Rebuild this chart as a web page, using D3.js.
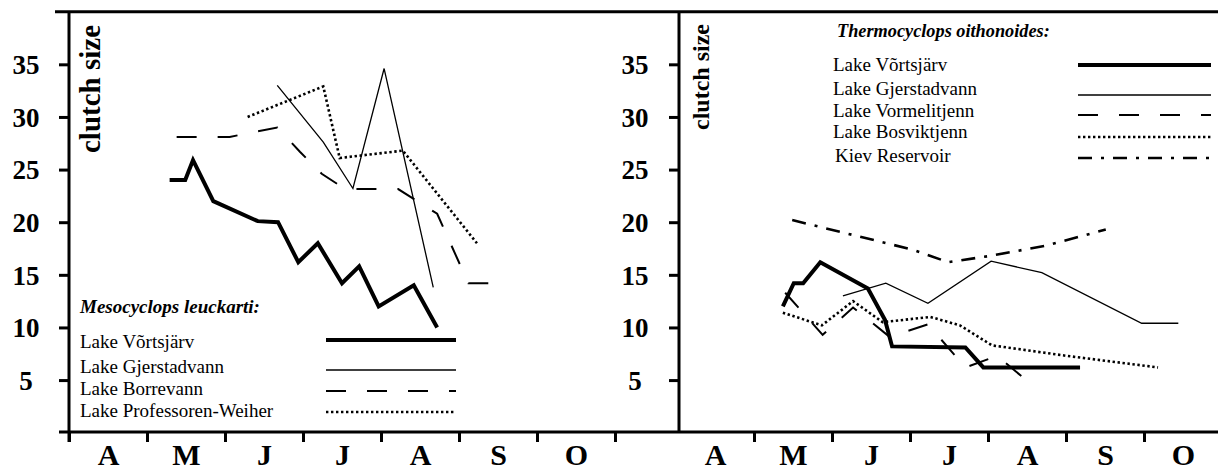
<!DOCTYPE html>
<html><head><meta charset="utf-8">
<script src="https://cdn.jsdelivr.net/npm/d3@7"></script>
<style>body{margin:0;background:#fff}svg{display:block}</style>
</head><body>
<svg id="chart" width="1218" height="472"></svg>
<script>
// ---------- data ----------
const monthLabels = ["A","M","J","J","A","S","O"];
const monthStarts = [4,5,6,7,8,9,10,11];           // April = 4 ... end of October = 11
const yTicks = [5,10,15,20,25,30,35];

// Left panel: Mesocyclops leuckarti (x = month as decimal, y = clutch size)
const mlVortsjarvMonth = [5.29,5.49,5.59,5.85,6.42,6.68,6.94,7.19,7.50,7.72,7.97,8.42,8.72];
const mlVortsjarvValue = [24.0,24.0,25.9,22.0,20.1,20.0,16.2,18.0,14.2,15.8,12.0,14.0,10.0];
const mlGjerstadMonth  = [6.67,7.26,7.64,8.04,8.67];
const mlGjerstadValue  = [33.0,27.6,23.2,34.6,13.8];
const mlBorreMonth     = [5.38,6.06,6.67,6.96,7.24,7.54,8.22,8.72,9.12,9.56];
const mlBorreValue     = [28.1,28.1,29.0,26.7,24.6,23.15,23.15,20.8,14.2,14.2];
const mlProfMonth      = [6.29,7.26,7.47,8.28,9.23];
const mlProfValue      = [30.0,32.9,26.1,26.8,18.0];

// Right panel: Thermocyclops oithonoides
const toVortsjarvMonth = [5.37,5.51,5.63,5.85,6.46,6.68,6.77,7.71,7.94,9.18];
const toVortsjarvValue = [12.0,14.2,14.2,16.2,13.7,10.7,8.2,8.1,6.2,6.2];
const toGjerstadMonth  = [6.14,6.69,7.23,8.04,8.69,9.97,10.44];
const toGjerstadValue  = [13.0,14.2,12.3,16.3,15.2,10.4,10.4];
const toVormeMonth     = [5.40,5.88,6.27,6.74,7.23,7.71,8.12,8.60];
const toVormeValue     = [13.3,9.3,11.9,9.1,10.3,6.2,7.3,4.3];
const toBosvikMonth    = [5.37,5.87,6.27,6.65,7.26,7.64,8.05,9.01,10.18];
const toBosvikValue    = [11.4,10.2,12.5,10.5,11.0,10.2,8.3,7.3,6.2];
const toKievMonth      = [5.49,7.03,7.49,8.03,8.76,9.51];
const toKievValue      = [20.2,17.4,16.2,16.8,17.8,19.3];

const leftTitle = "Mesocyclops leuckarti:";
const leftNames = ["Lake Võrtsjärv","Lake Gjerstadvann","Lake Borrevann","Lake Professoren-Weiher"];
const rightTitle = "Thermocyclops oithonoides:";
const rightNames = ["Lake Võrtsjärv","Lake Gjerstadvann","Lake Vormelitjenn","Lake Bosviktjenn","Kiev Reservoir"];
const yLabel = "clutch size";

// ---------- styles ----------
const styles = {
  thick:   {w:4,   dash:null},
  thin:    {w:1.3, dash:null},
  dashed:  {w:2,   dash:"20,21"},
  dotted:  {w:2.6, dash:"2.4,2.6"},
  dashdot: {w:2.6, dash:"14,9,3,9"}
};
const FONT = "'Liberation Serif','Times New Roman',serif";

const svg = d3.select("#chart");
const y  = d3.scaleLinear().domain([0,40]).range([432.7,11.7]);
const xL = d3.scaleLinear().domain([4,11]).range([69,615]);
const xR = d3.scaleLinear().domain([4,11]).range([676,1222]);
const axisY = 432;

// frame lines
svg.append("line").attr("x1",55).attr("x2",1218).attr("y1",11.7).attr("y2",11.7)
  .attr("stroke","#000").attr("stroke-width",3);
svg.append("line").attr("x1",59).attr("x2",1218).attr("y1",axisY).attr("y2",axisY)
  .attr("stroke","#000").attr("stroke-width",3);
svg.append("line").attr("x1",69).attr("x2",69).attr("y1",11.7).attr("y2",442)
  .attr("stroke","#000").attr("stroke-width",3);
svg.append("line").attr("x1",679).attr("x2",679).attr("y1",11.7).attr("y2",axisY)
  .attr("stroke","#000").attr("stroke-width",3);

// y axes
function yAxis(xPos, labelX, fs) {
  const g = svg.append("g").attr("transform",`translate(${xPos},0)`)
    .call(d3.axisLeft(y).tickValues(yTicks).tickSize(10).tickFormat(d3.format("d")));
  g.select(".domain").remove();
  g.selectAll(".tick line").attr("stroke","#000").attr("stroke-width",3);
  g.selectAll(".tick text").attr("x",labelX - xPos).attr("dy","0.34em")
    .attr("text-anchor","middle").attr("font-family",FONT).attr("font-weight","bold")
    .attr("font-size",fs).attr("fill","#000");
}
yAxis(69, 26, 27);
yAxis(679, 635, 27);

// x axes
function xAxis(x, tickVals) {
  const g = svg.append("g").attr("transform",`translate(0,${axisY})`)
    .call(d3.axisBottom(x).tickValues(tickVals).tickSize(10).tickFormat(""));
  g.select(".domain").remove();
  g.selectAll(".tick line").attr("stroke","#000").attr("stroke-width",3);
  const mids = monthLabels.map((m,i)=>monthStarts[i]+0.5);
  const g2 = svg.append("g").attr("transform",`translate(0,${axisY})`)
    .call(d3.axisBottom(x).tickValues(mids).tickSize(0).tickFormat((d,i)=>monthLabels[i]));
  g2.select(".domain").remove();
  g2.selectAll(".tick text").attr("y",33).attr("dy",0)
    .attr("font-family",FONT).attr("font-weight","bold").attr("font-size",30).attr("fill","#000");
}
xAxis(xL, monthStarts);
xAxis(xR, monthStarts.slice(1,7));

// y labels
svg.append("text").attr("transform","translate(100,89) rotate(-90)").attr("text-anchor","middle")
  .attr("font-family",FONT).attr("font-weight","bold").attr("font-size",29).text(yLabel);
svg.append("text").attr("transform","translate(709,77) rotate(-90)").attr("text-anchor","middle")
  .attr("font-family",FONT).attr("font-weight","bold").attr("font-size",24).text(yLabel);

// series
function drawSeries(x, months, values, st) {
  const data = months.map((m,i)=>[m, values[i]]);
  const line = d3.line().x(d=>x(d[0])).y(d=>y(d[1]));
  const s = styles[st];
  svg.append("path").datum(data).attr("d",line).attr("fill","none").attr("stroke","#000")
    .attr("stroke-width",s.w).attr("stroke-dasharray",s.dash).attr("stroke-linejoin","miter");
}
drawSeries(xL, mlProfMonth, mlProfValue, "dotted");
drawSeries(xL, mlBorreMonth, mlBorreValue, "dashed");
drawSeries(xL, mlGjerstadMonth, mlGjerstadValue, "thin");
drawSeries(xL, mlVortsjarvMonth, mlVortsjarvValue, "thick");

drawSeries(xR, toKievMonth, toKievValue, "dashdot");
drawSeries(xR, toBosvikMonth, toBosvikValue, "dotted");
drawSeries(xR, toVormeMonth, toVormeValue, "dashed");
drawSeries(xR, toGjerstadMonth, toGjerstadValue, "thin");
drawSeries(xR, toVortsjarvMonth, toVortsjarvValue, "thick");

// legends
function legend(title, titlePos, titleSize, names, textX, textYs, lineX1, lineX2, lineYs, kinds) {
  svg.append("text").attr("x",titlePos[0]).attr("y",titlePos[1]).attr("font-family",FONT)
    .attr("font-weight","bold").attr("font-style","italic").attr("font-size",titleSize).text(title);
  names.forEach((n,i)=>{
    svg.append("text").attr("x",textX[i]).attr("y",textYs[i]).attr("font-family",FONT)
      .attr("font-size",19).text(n);
    const s = styles[kinds[i]];
    svg.append("line").attr("x1",lineX1).attr("x2",lineX2).attr("y1",lineYs[i]).attr("y2",lineYs[i])
      .attr("stroke","#000").attr("stroke-width",s.w).attr("stroke-dasharray",s.dash);
  });
}
legend(leftTitle,[80,313],19,leftNames,[80,80,80,80],[348,373,395,417],326,456,[340,370,391,412],
  ["thick","thin","dashed","dotted"]);
legend(rightTitle,[837,37],18.3,rightNames,[833,833,833,833,835],[71,95,117,138,162],1078,1211,[65,95,115,137,158],
  ["thick","thin","dashed","dotted","dashdot"]);
</script>
</body></html>
